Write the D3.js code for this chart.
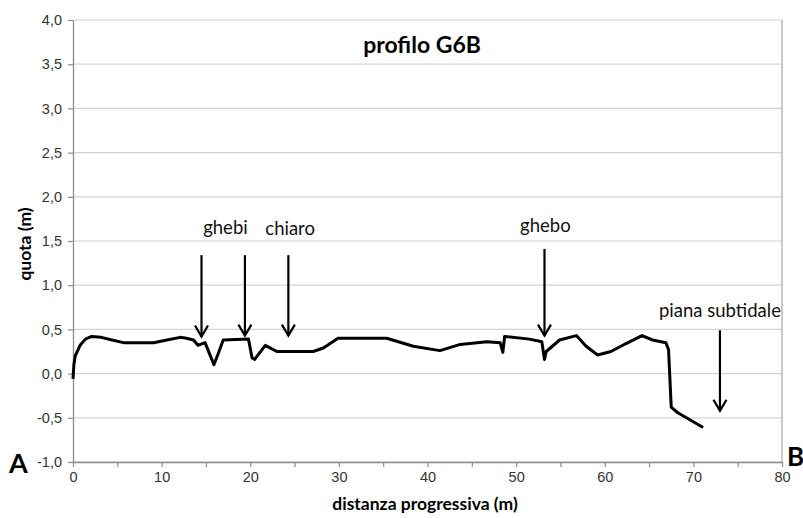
<!DOCTYPE html>
<html>
<head>
<meta charset="utf-8">
<script src="https://cdn.jsdelivr.net/npm/d3@7"></script>
<style>
  html, body { margin: 0; padding: 0; background: #fff; }
  svg { display: block; font-family: Lato, "Open Sans", sans-serif; }
</style>
</head>
<body>
<svg id="chart" width="803" height="518"></svg>
<script>
// Cross-section profile G6B: progressive distance (m) vs elevation (m)
const distance = [0, 0.1, 0.25, 0.8, 1.4, 2.1, 3.2, 4.4, 5.7, 9.1, 10.6, 12.1, 12.8, 13.6, 14.1, 14.9, 15.5, 15.9, 16.4, 16.95, 19.8, 20.2, 20.5, 21.7, 23.0, 27.1, 28.25, 29.9, 35.4, 38.4, 41.4, 43.7, 46.7, 48.2, 48.5, 48.7, 51.5, 52.9, 53.2, 53.4, 54.9, 56.8, 57.9, 59.2, 60.7, 62.4, 64.2, 65.4, 66.9, 67.2, 67.5, 68.2, 71.1];
const quota = [-0.06, 0.1, 0.2, 0.32, 0.39, 0.42, 0.41, 0.38, 0.35, 0.35, 0.38, 0.41, 0.40, 0.38, 0.32, 0.35, 0.20, 0.10, 0.23, 0.38, 0.39, 0.18, 0.16, 0.32, 0.25, 0.25, 0.29, 0.40, 0.40, 0.31, 0.26, 0.33, 0.36, 0.35, 0.24, 0.42, 0.39, 0.36, 0.16, 0.25, 0.38, 0.43, 0.31, 0.21, 0.25, 0.34, 0.43, 0.38, 0.35, 0.27, -0.38, -0.44, -0.61];

const xTicks = [0, 10, 20, 30, 40, 50, 60, 70, 80];
const yTicks = [-1.0, -0.5, 0.0, 0.5, 1.0, 1.5, 2.0, 2.5, 3.0, 3.5, 4.0];

// Annotations: label, label position, arrow (x, top, tip)
const labelText = ["ghebi", "chiaro", "ghebo", "piana subtidale"];
const labelX = [17.2, 24.5, 53.3, 73.0];
const labelY = [1.58, 1.57, 1.6, 0.64];
const arrowX = [14.5, 19.4, 24.3, 53.2, 73.0];
const arrowTop = [1.34, 1.34, 1.34, 1.41, 0.49];
const arrowTip = [0.42, 0.43, 0.43, 0.43, -0.42];

const svg = d3.select("#chart");
const margin = { left: 73, right: 21, top: 20, bottom: 56 };
const W = 803, H = 518;

const x = d3.scaleLinear().domain([0, 80]).range([margin.left, W - margin.right]);
const y = d3.scaleLinear().domain([-1, 4]).range([H - margin.bottom, margin.top]);

const fmt = d => d3.format(".1f")(d).replace(".", ",").replace("−", "-");

// horizontal gridlines
svg.append("g")
  .selectAll("line")
  .data(yTicks)
  .join("line")
  .attr("x1", x(0)).attr("x2", x(80))
  .attr("y1", d => y(d)).attr("y2", d => y(d))
  .attr("stroke", "#d4d4d4").attr("stroke-width", 1.2);

// right border of the plot area
svg.append("line")
  .attr("x1", x(80)).attr("x2", x(80))
  .attr("y1", y(4)).attr("y2", y(-1))
  .attr("stroke", "#a6a6a6").attr("stroke-width", 1.2);

// y axis
const yAxis = svg.append("g")
  .attr("transform", `translate(${x(0)},0)`)
  .call(d3.axisLeft(y).tickValues(yTicks).tickFormat(fmt).tickSize(5).tickSizeOuter(0));
yAxis.select(".domain").attr("stroke", "#8c8c8c").attr("stroke-width", 1.3);
yAxis.selectAll(".tick line").attr("stroke", "#8c8c8c").attr("stroke-width", 1.2);
yAxis.selectAll(".tick text").attr("font-size", 14.5).attr("fill", "#333").attr("x", -11);

// x axis with minor ticks every 5 m
const xAxis = svg.append("g")
  .attr("transform", `translate(0,${y(-1)})`)
  .call(d3.axisBottom(x).tickValues(d3.range(0, 81, 5))
    .tickFormat(d => xTicks.includes(d) ? d : "").tickSize(5).tickSizeOuter(0));
xAxis.select(".domain").attr("stroke", "#8c8c8c").attr("stroke-width", 1.3);
xAxis.selectAll(".tick line").attr("stroke", "#8c8c8c").attr("stroke-width", 1.2);
xAxis.selectAll(".tick text").attr("font-size", 14.5).attr("fill", "#333").attr("y", 10);

// profile line
const line = d3.line().x((d, i) => x(distance[i])).y(d => y(d));
svg.append("path")
  .datum(quota)
  .attr("d", line)
  .attr("fill", "none")
  .attr("stroke", "#000")
  .attr("stroke-width", 3)
  .attr("stroke-linejoin", "round");

// arrows
const arrows = svg.append("g").attr("stroke", "#000").attr("stroke-width", 2.2).attr("fill", "none");
arrowX.forEach((ax, i) => {
  const px = x(ax), top = y(arrowTop[i]), tip = y(arrowTip[i]);
  arrows.append("line").attr("x1", px).attr("x2", px).attr("y1", top).attr("y2", tip);
  arrows.append("path")
    .attr("d", `M${px - 6.5},${tip - 11}L${px},${tip}L${px + 6.5},${tip - 11}`)
    .attr("stroke-linejoin", "miter");
});

// annotation labels
svg.append("g")
  .selectAll("text")
  .data(labelText)
  .join("text")
  .attr("x", (d, i) => x(labelX[i]))
  .attr("y", (d, i) => y(labelY[i]))
  .attr("text-anchor", "middle")
  .attr("font-size", 18.5)
  .attr("fill", "#111")
  .text(d => d);

// title
svg.append("text")
  .attr("x", 422).attr("y", 53)
  .attr("text-anchor", "middle")
  .attr("font-size", 23).attr("font-weight", "bold")
  .text("profilo G6B");

// axis titles
svg.append("text")
  .attr("x", 425).attr("y", 510)
  .attr("text-anchor", "middle")
  .attr("font-size", 17.5).attr("font-weight", "bold")
  .text("distanza progressiva (m)");

svg.append("text")
  .attr("transform", `translate(31,244) rotate(-90)`)
  .attr("text-anchor", "middle")
  .attr("font-size", 17.5).attr("font-weight", "bold")
  .text("quota (m)");

// section end points
svg.append("text").attr("x", 9).attr("y", 473)
  .attr("font-size", 27).attr("font-weight", "bold").text("A");
svg.append("text").attr("x", 787).attr("y", 466)
  .attr("font-size", 26).attr("font-weight", "bold").text("B");
</script>
</body>
</html>
